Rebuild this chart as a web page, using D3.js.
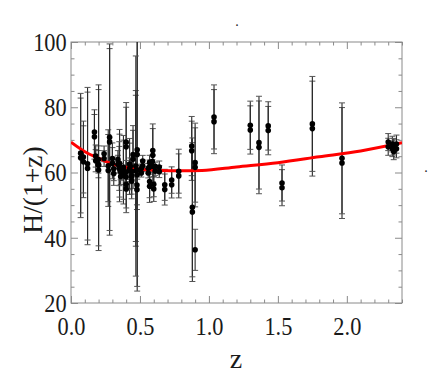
<!DOCTYPE html>
<html>
<head>
<meta charset="utf-8">
<script src="https://cdn.jsdelivr.net/npm/d3@7"></script>
<style>
  body { margin: 0; background: #fff; }
  svg { display: block; }
  .lbl { font-family: "Liberation Serif", "DejaVu Serif", serif; fill: #1a1a1a; }
</style>
</head>
<body>
<svg id="chart" width="436" height="382"></svg>
<script>
// measured H(z)/(1+z) points: redshift, value, 1-sigma error
var zVals = [0.07, 0.09, 0.12, 0.17, 0.179, 0.199, 0.2, 0.27, 0.28, 0.352, 0.3802, 0.4, 0.4004, 0.4247,
  0.4497, 0.47, 0.4783, 0.48, 0.593, 0.6797, 0.7812, 0.8754, 0.88, 0.9, 1.037, 1.3, 1.363, 1.43, 1.53,
  1.75, 1.965,
  0.24, 0.3, 0.31, 0.34, 0.35, 0.36, 0.38, 0.4, 0.43, 0.44, 0.44, 0.48, 0.51, 0.52, 0.56, 0.57, 0.57,
  0.59, 0.6, 0.61, 0.64, 0.73, 2.3, 2.33, 2.34, 2.36];
var hVals = [64.49, 63.30, 61.25, 70.94, 63.61, 62.55, 60.75, 60.63, 69.38, 61.39, 60.13, 67.86, 54.98, 61.14,
  64.03, 60.54, 54.74, 65.54, 65.29, 54.78, 58.96, 66.66, 47.87, 61.58, 75.59, 73.04, 67.71, 72.84, 55.34,
  73.45, 62.90,
  64.27, 62.85, 59.68, 62.54, 61.26, 58.78, 59.06, 58.60, 60.45, 57.36, 58.90, 59.32, 59.87, 62.07, 59.83, 55.80, 61.66,
  61.92, 54.94, 60.43, 60.26, 56.24, 67.88, 67.27, 66.47, 67.26];
var errVals = [18.32, 11.01, 23.39, 6.84, 3.39, 4.17, 24.67, 11.02, 28.59, 10.36, 9.78, 12.14, 7.29, 7.86,
  8.90, 23.13, 6.09, 41.89, 8.16, 4.76, 6.74, 9.07, 21.28, 12.11, 9.82, 7.39, 14.22, 7.41, 5.53,
  14.55, 17.00,
  2.41, 4.78, 3.62, 2.73, 6.74, 2.49, 1.38, 1.45, 2.57, 5.42, 1.27, 1.37, 1.26, 1.74, 1.49, 4.97, 2.17,
  2.00, 3.81, 1.30, 1.82, 4.05, 2.61, 2.40, 2.54, 2.77];

// points that only show up once
var extraZ = [0.47, 0.9];
var extraH = [60.54, 36.3];
var extraErr = [33.74, 6.3];
var extraDot = [false, true];

// red model curve
var curveZ = [0, 0.12, 0.2, 0.27, 0.34, 0.41, 0.5, 0.65, 0.8, 0.95, 1.2, 1.5, 1.8, 2.1, 2.4];
var curveH = [69.3, 65.9, 64.4, 63.1, 62.1, 61.5, 61.0, 60.6, 60.5, 60.6, 61.7, 63.0, 64.8, 66.6, 69.1];

var xTicks = [0, 0.5, 1.0, 1.5, 2.0];
var yTicks = [20, 40, 60, 80, 100];

var svg = d3.select("#chart");
var pLeft = 71, pRight = 402, pTop = 42, pBottom = 303;

var x = d3.scaleLinear().domain([0, 2.4]).range([pLeft, pRight]);
var y = d3.scaleLinear().domain([20, 100]).range([pBottom, pTop]);

svg.append("defs").append("clipPath").attr("id", "plotclip")
  .append("rect").attr("x", pLeft).attr("y", pTop).attr("width", pRight - pLeft).attr("height", pBottom - pTop);

var frameColor = "#8a8a8a";

// minor + major ticks on all four sides
var xMinor = d3.range(0, 2.41, 0.1).filter(function(d) { return Math.abs(d * 2 - Math.round(d * 2)) > 0.01; });
var yMinor = d3.range(20, 101, 5).filter(function(d) { return d % 20 != 0; });

function styleAxis(g) {
  g.select(".domain").remove();
  g.selectAll("line").attr("stroke", frameColor);
}

svg.append("g").attr("transform", "translate(0," + pBottom + ")")
  .call(d3.axisBottom(x).tickValues(xMinor).tickSize(-3.5).tickFormat(""))
  .call(styleAxis);
svg.append("g").attr("transform", "translate(0," + pTop + ")")
  .call(d3.axisTop(x).tickValues(xMinor).tickSize(-3.5).tickFormat(""))
  .call(styleAxis);
svg.append("g").attr("transform", "translate(0," + pTop + ")")
  .call(d3.axisTop(x).tickValues(xTicks).tickSize(-7).tickFormat(""))
  .call(styleAxis);
svg.append("g").attr("transform", "translate(" + pLeft + ",0)")
  .call(d3.axisLeft(y).tickValues(yMinor).tickSize(-3.5).tickFormat(""))
  .call(styleAxis);
svg.append("g").attr("transform", "translate(" + pRight + ",0)")
  .call(d3.axisRight(y).tickValues(yMinor).tickSize(-3.5).tickFormat(""))
  .call(styleAxis);
svg.append("g").attr("transform", "translate(" + pRight + ",0)")
  .call(d3.axisRight(y).tickValues(yTicks).tickSize(-7).tickFormat(""))
  .call(styleAxis);

var xAxis = svg.append("g").attr("transform", "translate(0," + pBottom + ")")
  .call(d3.axisBottom(x).tickValues(xTicks).tickSize(-7).tickFormat(d3.format(".1f")))
  .call(styleAxis);
xAxis.selectAll("text").attr("class", "lbl").attr("font-size", 26).attr("y", 14)
  .attr("transform", "scale(0.86,1)").attr("fill", "#1a1a1a");

var yAxis = svg.append("g").attr("transform", "translate(" + pLeft + ",0)")
  .call(d3.axisLeft(y).tickValues(yTicks).tickSize(-7).tickFormat(d3.format("d")))
  .call(styleAxis);
yAxis.selectAll("text").attr("class", "lbl").attr("font-size", 26).attr("x", -5)
  .attr("transform", "scale(0.86,1)").attr("fill", "#1a1a1a");

svg.append("rect").attr("x", pLeft).attr("y", pTop).attr("width", pRight - pLeft).attr("height", pBottom - pTop)
  .attr("fill", "none").attr("stroke", frameColor).attr("stroke-width", 1);

// error bars, drawn twice (second copy sits a few px higher, as in the original)
var pts = zVals.map(function(z, i) { return { z: z, h: hVals[i], e: errVals[i], dot: true }; });
var extras = extraZ.map(function(z, i) { return { z: z, h: extraH[i], e: extraErr[i], dot: extraDot[i] }; });

var plot = svg.append("g").attr("clip-path", "url(#plotclip)");

function drawBars(g, data) {
  var bar = g.selectAll("g.bar").data(data).enter().append("g").attr("class", "bar");
  bar.append("line")
    .attr("x1", function(d) { return x(d.z); }).attr("x2", function(d) { return x(d.z); })
    .attr("y1", function(d) { return y(d.h - d.e); }).attr("y2", function(d) { return y(d.h + d.e); })
    .attr("stroke", "#2a2a2a").attr("stroke-width", 1.1);
  [-1, 1].forEach(function(s) {
    bar.append("line")
      .attr("x1", function(d) { return x(d.z) - 3; }).attr("x2", function(d) { return x(d.z) + 3; })
      .attr("y1", function(d) { return y(d.h + s * d.e); }).attr("y2", function(d) { return y(d.h + s * d.e); })
      .attr("stroke", "#555").attr("stroke-width", 1);
  });
}

var copyA = plot.append("g");
var copyB = plot.append("g").attr("transform", "translate(0,-4.7)");
drawBars(copyA, pts.concat(extras.filter(function(d) { return d.dot; })));
drawBars(copyB, pts.concat(extras.filter(function(d) { return !d.dot; })));

var line = d3.line().x(function(d, i) { return x(curveZ[i]); }).y(function(d) { return y(d); })
  .curve(d3.curveMonotoneX);
plot.append("path").datum(curveH).attr("d", line)
  .attr("fill", "none").attr("stroke", "#ff0000").attr("stroke-width", 3);

function drawDots(g, data) {
  g.selectAll("circle").data(data).enter().append("circle")
    .attr("cx", function(d) { return x(d.z); }).attr("cy", function(d) { return y(d.h); })
    .attr("r", 2.8).attr("fill", "#000");
}
drawDots(plot.append("g"), pts.concat(extras.filter(function(d) { return d.dot; })));
drawDots(plot.append("g").attr("transform", "translate(0,-4.7)"), pts);

// axis titles
svg.append("text").attr("class", "lbl").attr("font-size", 27.5)
  .attr("transform", "translate(42,190) rotate(-90)")
  .attr("text-anchor", "middle").text("H/(1+z)");
svg.append("text").attr("class", "lbl").attr("font-size", 28)
  .attr("x", 236).attr("y", 368).attr("text-anchor", "middle").text("z");

// two stray dots that are in the original picture
svg.append("text").attr("class", "lbl").attr("font-size", 14).attr("x", 237).attr("y", 26)
  .attr("text-anchor", "middle").text(".");
svg.append("text").attr("class", "lbl").attr("font-size", 14).attr("x", 426).attr("y", 172)
  .attr("text-anchor", "middle").text(".");
</script>
</body>
</html>
